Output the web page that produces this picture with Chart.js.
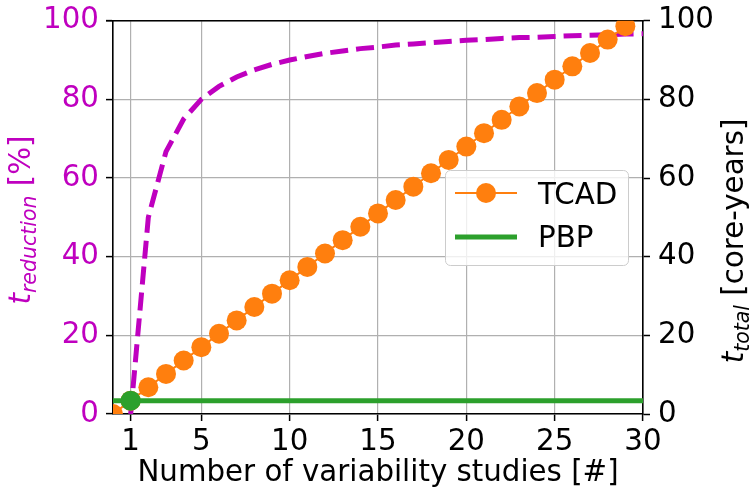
<!DOCTYPE html>
<html><head><meta charset="utf-8">
<script src="https://cdn.jsdelivr.net/npm/chart.js@4/dist/chart.umd.min.js"></script>
<style>html,body{margin:0;padding:0;background:#fff}#wrap{width:751px;height:495px;position:relative}</style>
</head><body><div id="wrap"><canvas id="c" width="751" height="495"></canvas></div>
<script>
// ---- data ----
const xTicks = [1, 5, 10, 15, 20, 25, 30];
const yTicks = [0, 20, 40, 60, 80, 100];
const tcadStudies = [0,1,2,3,4,5,6,7,8,9,10,11,12,13,14,15,16,17,18,19,20,21,22,23,24,25,26,27,28,29];
const tcadCoreYears = [0,3.4,6.8,10.2,13.6,17.0,20.4,23.8,27.2,30.6,34.0,37.4,40.8,44.2,47.6,51.0,54.4,57.8,61.2,64.6,68.0,71.4,74.8,78.2,81.6,85.0,88.4,91.8,95.2,98.6];
const pbpStudies = [0, 30];
const pbpCoreYears = [3.4, 3.4];
const pbpMarkerStudies = [1];
const pbpMarkerCoreYears = [3.4];
const reductionStudies = [1,2,3,4,5,6,7,8,9,10,11,12,13,14,15,16,17,18,19,20,21,22,23,24,25,26,27,28,29,30];
const reductionPercent = [0,50,66.7,75,80,83.3,85.7,87.5,88.9,90,90.9,91.7,92.3,92.9,93.3,93.8,94.1,94.4,94.7,95,95.2,95.5,95.7,95.8,96,96.2,96.3,96.4,96.6,96.7];

const MAGENTA = '#bf00bf', ORANGE = '#ff7f0e', GREEN = '#2ca02c';
const FONT = "'DejaVu Sans'";
const FS = 29.3;
const pts = (xs, ys) => xs.map((x, i) => ({x: x, y: ys[i]}));

function drawMixed(ctx, cx, cy, segs, color) {
  ctx.save();
  ctx.translate(cx, cy);
  ctx.rotate(-Math.PI / 2);
  ctx.fillStyle = color;
  ctx.textBaseline = 'alphabetic';
  ctx.textAlign = 'left';
  let total = 0;
  segs.forEach(s => { ctx.font = s.font; s.w = ctx.measureText(s.text).width; total += s.w; });
  let x = -total / 2;
  segs.forEach(s => { ctx.font = s.font; ctx.fillText(s.text, x, s.dy); x += s.w; });
  ctx.restore();
}

const decor = {
  id: 'decor',
  beforeDatasetsDraw(chart) {
    const ctx = chart.ctx, a = chart.chartArea;
    ctx.save();
    ctx.strokeStyle = '#000'; ctx.lineWidth = 1.6;
    ctx.beginPath(); ctx.moveTo(a.left - 7, a.top); ctx.lineTo(a.right + 0.8, a.top); ctx.stroke();
    ctx.restore();
  },
  afterDraw(chart) {
    const ctx = chart.ctx, a = chart.chartArea;
    ctx.save();
    // x title
    ctx.fillStyle = '#000';
    ctx.font = FS + 'px ' + FONT;
    ctx.textAlign = 'center';
    ctx.textBaseline = 'alphabetic';
    ctx.fillText('Number of variability studies [#]', (a.left + a.right) / 2, 481);
    // y titles
    drawMixed(ctx, 30, 220, [
      {text: 't', font: 'italic ' + FS + 'px ' + FONT, dy: 0},
      {text: 'reduction', font: 'italic ' + (FS * 0.7) + 'px ' + FONT, dy: 6},
      {text: ' [%]', font: FS + 'px ' + FONT, dy: 0}
    ], MAGENTA);
    drawMixed(ctx, 743, 241, [
      {text: 't', font: 'italic ' + FS + 'px ' + FONT, dy: 0},
      {text: 'total', font: 'italic ' + (FS * 0.7) + 'px ' + FONT, dy: 6},
      {text: ' [core-years]', font: FS + 'px ' + FONT, dy: 0}
    ], '#000');
    // legend
    ctx.beginPath();
    ctx.roundRect(445.5, 170.5, 183, 95, 5);
    ctx.fillStyle = 'rgba(255,255,255,0.8)';
    ctx.fill();
    ctx.strokeStyle = '#cccccc'; ctx.lineWidth = 1;
    ctx.stroke();
    ctx.lineCap = 'butt';
    ctx.strokeStyle = ORANGE; ctx.lineWidth = 2;
    ctx.beginPath(); ctx.moveTo(455, 193); ctx.lineTo(517, 193); ctx.stroke();
    ctx.fillStyle = ORANGE;
    ctx.beginPath(); ctx.arc(486, 193, 10, 0, Math.PI * 2); ctx.fill();
    ctx.strokeStyle = GREEN; ctx.lineWidth = 5;
    ctx.beginPath(); ctx.moveTo(455, 237); ctx.lineTo(517, 237); ctx.stroke();
    ctx.fillStyle = '#000';
    ctx.font = FS + 'px ' + FONT;
    ctx.textAlign = 'left';
    ctx.textBaseline = 'alphabetic';
    ctx.fillText('TCAD', 538, 204);
    ctx.fillText('PBP', 538, 247);
    ctx.restore();
  }
};

const noPad = s => { s.paddingTop = 0; s.paddingBottom = 0; };

new Chart(document.getElementById('c'), {
  type: 'line',
  data: {
    datasets: [
      { label: 'PBP marker', data: pts(pbpMarkerStudies, pbpMarkerCoreYears), yAxisID: 'y2',
        showLine: false, pointRadius: 10, pointBorderWidth: 0, backgroundColor: GREEN, borderColor: GREEN, order: 0, clip: 0 },
      { label: 'PBP', data: pts(pbpStudies, pbpCoreYears), yAxisID: 'y2',
        borderColor: GREEN, borderWidth: 5, pointRadius: 0, order: 1, clip: 0 },
      { label: 'TCAD', data: pts(tcadStudies, tcadCoreYears), yAxisID: 'y2',
        borderColor: ORANGE, backgroundColor: ORANGE, borderWidth: 2, pointRadius: 10, pointBorderWidth: 0, order: 2, clip: 0 },
      { label: 'reduction', data: pts(reductionStudies, reductionPercent), yAxisID: 'y',
        borderColor: MAGENTA, borderWidth: 5, borderDash: [18, 8], borderCapStyle: 'butt', pointRadius: 0, order: 3, clip: 0 }
    ]
  },
  options: {
    responsive: false,
    animation: false,
    devicePixelRatio: 1,
    layout: { padding: { top: 20.7, left: 0, right: 0, bottom: 0 } },
    plugins: { legend: { display: false }, tooltip: { enabled: false } },
    scales: {
      x: {
        type: 'linear', min: 0, max: 30,
        afterBuildTicks: s => { s.ticks = xTicks.map(v => ({value: v})); },
        afterFit: s => { s.height = 81; s.paddingLeft = 0; s.paddingRight = 0; },
        ticks: { color: '#000', font: { family: FONT, size: FS }, padding: 4, maxRotation: 0, autoSkip: false },
        grid: { color: '#b0b0b0', lineWidth: 1.2, tickLength: 7, tickColor: '#000', tickWidth: 1.5 },
        border: { color: '#000', width: 1.6 }
      },
      y: {
        position: 'left', min: 0, max: 100,
        afterBuildTicks: s => { s.ticks = yTicks.map(v => ({value: v})); },
        afterFit: s => { s.width = 113; noPad(s); },
        ticks: { color: MAGENTA, font: { family: FONT, size: FS }, padding: 7 },
        grid: { color: '#b0b0b0', lineWidth: 1.2, tickLength: 7, tickColor: '#000', tickWidth: 1.5 },
        border: { color: '#000', width: 1.6 }
      },
      y2: {
        position: 'right', min: 0, max: 100,
        afterBuildTicks: s => { s.ticks = yTicks.map(v => ({value: v})); },
        afterFit: s => { s.width = 108; noPad(s); },
        ticks: { color: '#000', font: { family: FONT, size: FS }, padding: 8 },
        grid: { drawOnChartArea: false, tickLength: 7, tickColor: '#000', tickWidth: 1.5 },
        border: { color: '#000', width: 1.6 }
      }
    }
  },
  plugins: [decor]
});
</script></body></html>
